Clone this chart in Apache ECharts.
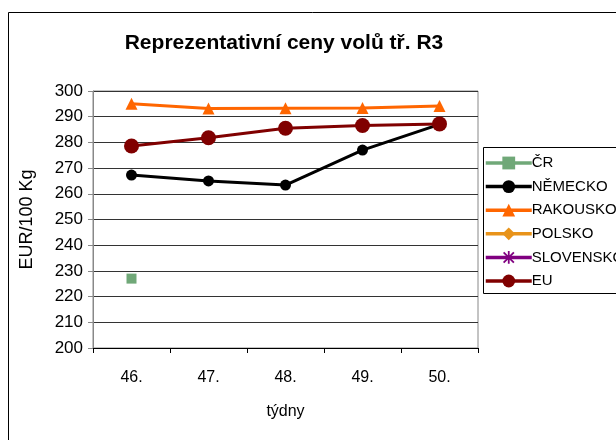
<!DOCTYPE html>
<html>
<head>
<meta charset="utf-8">
<script src="https://cdn.jsdelivr.net/npm/echarts@6/dist/echarts.min.js"></script>
<style>
html,body{margin:0;padding:0;background:#fff;}
#chart{width:616px;height:440px;}
</style>
</head>
<body>
<div id="chart"></div>
<script>
// weeks and prices (EUR/100 kg)
var weeks = ['46.', '47.', '48.', '49.', '50.'];
var cr = [227, null, null, null, null];
var nemecko = [267.3, 265, 263.4, 277, 287];
var rakousko = [295, 293.2, 293.3, 293.4, 294.2];
var polsko = [null, null, null, null, null];
var slovensko = [null, null, null, null, null];
var eu = [278.6, 281.8, 285.5, 286.6, 287.2];

var FONT = 'Liberation Sans, Arial, sans-serif';
var asterisk = 'path://M0,4.3L10,4.3L10,5.7L0,5.7Z M4.3,0L5.7,0L5.7,10L4.3,10Z M0.5,1.5L1.5,0.5L9.5,8.5L8.5,9.5Z M8.5,0.5L9.5,1.5L1.5,9.5L0.5,8.5Z';

function line(name, data, color, symbol, size) {
	return {
		name: name,
		type: 'line',
		data: data,
		symbol: symbol,
		symbolSize: size,
		showAllSymbol: true,
		connectNulls: false,
		lineStyle: {color: color, width: 3},
		itemStyle: {color: color},
		emphasis: {disabled: true}
	};
}

var myChart = echarts.init(document.getElementById('chart'), null, {renderer: 'canvas'});
var option = {
	animation: false,
	textStyle: {fontFamily: FONT},
	title: {
		text: 'Reprezentativní ceny volů tř. R3',
		left: 279,
		textAlign: 'center',
		top: 28,
		textStyle: {fontFamily: FONT, fontSize: 21, fontWeight: 'bold', color: '#000'}
	},
	graphic: [
		{type: 'rect', shape: {x: 8.5, y: 12.5, width: 700, height: 500}, style: {fill: 'none', stroke: '#000', lineWidth: 1}, z: -1},
		{type: 'rect', shape: {x: 483.5, y: 147.5, width: 200, height: 146}, style: {fill: '#fff', stroke: '#000', lineWidth: 1}, z: 0}
	],
	legend: {
		orient: 'vertical',
		left: 484,
		top: 155.5,
		itemGap: 8.6,
		itemWidth: 46,
		itemHeight: 16,
		padding: 0,
		lineStyle: {width: 3.5},
		textStyle: {fontFamily: FONT, fontSize: 15, color: '#000', padding: [0, 0, 0, -5]},
		data: ['ČR', 'NĚMECKO', 'RAKOUSKO', 'POLSKO', 'SLOVENSKO', 'EU']
	},
	grid: {
		left: 93, right: 138, top: 91, bottom: 92,
		show: true, borderColor: '#888', borderWidth: 1
	},
	xAxis: {
		type: 'category',
		data: weeks,
		boundaryGap: true,
		name: 'týdny',
		nameLocation: 'middle',
		nameGap: 56,
		nameTextStyle: {fontFamily: FONT, fontSize: 16, color: '#000'},
		axisLine: {lineStyle: {color: '#000', width: 1}},
		axisTick: {show: true, length: 5, lineStyle: {color: '#000'}},
		axisLabel: {fontFamily: FONT, fontSize: 16, color: '#000', margin: 22}
	},
	yAxis: {
		type: 'value',
		min: 200,
		max: 300,
		interval: 10,
		name: 'EUR/100 Kg',
		nameLocation: 'middle',
		nameRotate: 90,
		nameGap: 57,
		nameTextStyle: {fontFamily: FONT, fontSize: 18, color: '#000'},
		axisLine: {show: true, lineStyle: {color: '#888', width: 1}},
		axisTick: {show: true, length: 5, lineStyle: {color: '#888'}},
		axisLabel: {fontFamily: FONT, fontSize: 17, color: '#000', margin: 10},
		splitLine: {show: true, lineStyle: {color: '#333', width: 1}}
	},
	series: [
		line('ČR', cr, '#70a878', 'rect', 10),
		line('NĚMECKO', nemecko, '#000000', 'circle', 11),
		line('RAKOUSKO', rakousko, '#ff6600', 'triangle', 12),
		line('POLSKO', polsko, '#e8931a', 'diamond', 12),
		line('SLOVENSKO', slovensko, '#800080', asterisk, 12),
		line('EU', eu, '#800000', 'circle', 15)
	]
};
myChart.setOption(option);
window.addEventListener('resize', function() {
	myChart.resize();
});
</script>
</body>
</html>
